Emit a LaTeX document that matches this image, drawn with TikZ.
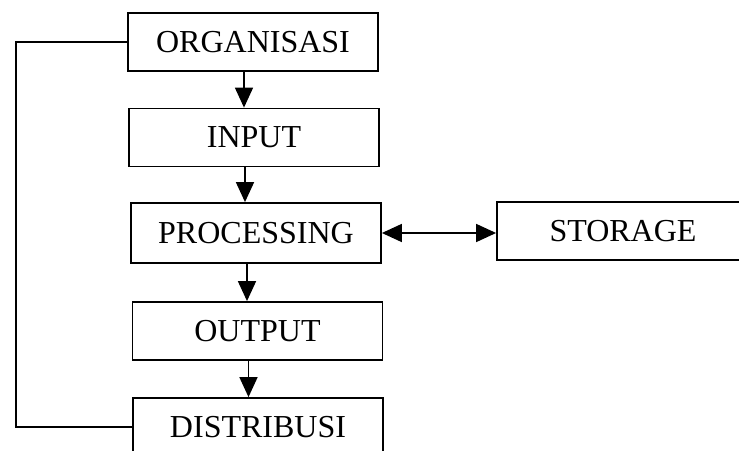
\documentclass[tikz,border=0pt]{standalone}
\usepackage{fontspec}
\setmainfont{Liberation Serif}
\usetikzlibrary{arrows.meta}
\begin{document}
\begin{tikzpicture}[x=1pt,y=-1pt,
  blk/.style={draw,line width=1.8pt,minimum width=250pt,minimum height=58pt,inner sep=0pt,font=\fontsize{32}{35}\selectfont},
  arr/.style={line width=1.6pt,-{Triangle[length=20pt,width=18pt]}},
  dbl/.style={line width=1.6pt,{Triangle[length=20pt,width=18pt]}-{Triangle[length=20pt,width=18pt]}},
  ln/.style={line width=1.6pt}]
\clip (0,0) rectangle (739,450);
\node[blk] (org) at (253,42) {ORGANISASI};
\node[blk] (inp) at (254,137.5) {INPUT};
\node[blk,minimum height=60pt] (proc) at (256,233) {PROCESSING};
\node[blk] (out) at (257.5,331) {OUTPUT};
\node[blk] (dist) at (258,427) {DISTRIBUSI};
\node[blk,minimum width=252pt] (sto) at (623,231) {STORAGE};
\coordinate (lx) at (16,0);
\draw[arr] ([xshift=-9pt]org.south) -- ([xshift=-9pt]org.south |- inp.north);
\draw[arr] ([xshift=-9pt]inp.south) -- ([xshift=-9pt]inp.south |- proc.north);
\draw[arr] ([xshift=-9pt]proc.south) -- ([xshift=-9pt]proc.south |- out.north);
\draw[arr] ([xshift=-9pt]out.south) -- ([xshift=-9pt]out.south |- dist.north);
\draw[dbl] (proc.east) -- (proc.east -| sto.west);
\draw[ln] (org.west) -- (org.west -| lx) |- (dist.west);
\end{tikzpicture}
\end{document}
